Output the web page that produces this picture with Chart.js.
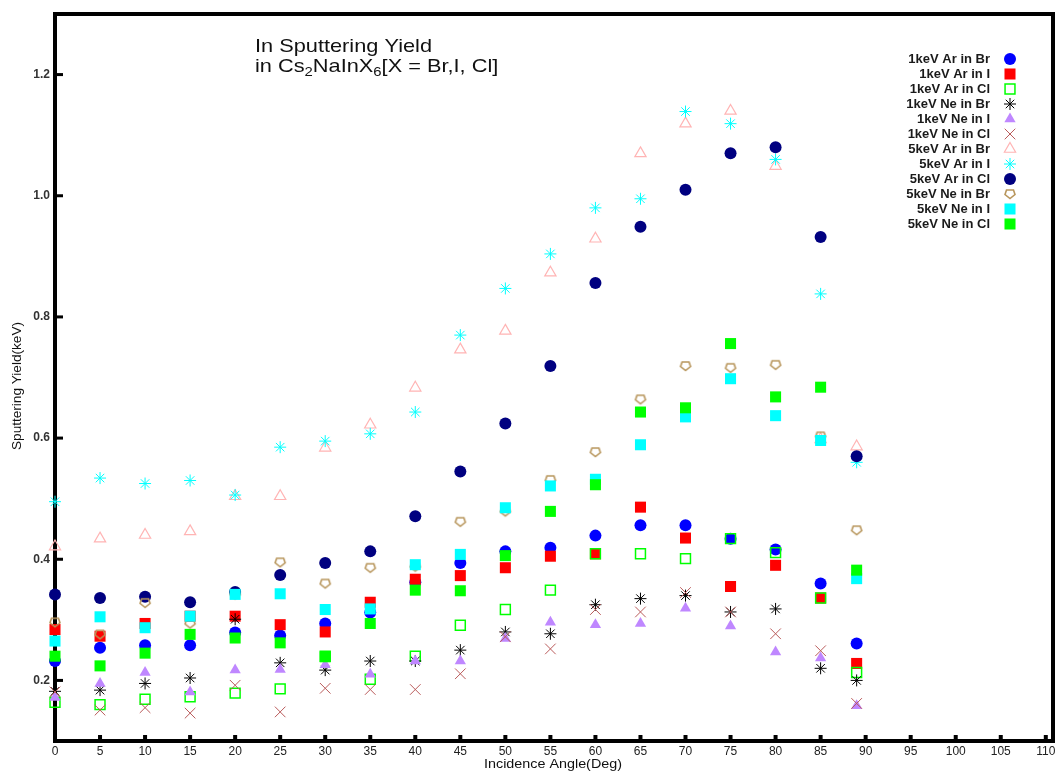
<!DOCTYPE html>
<html>
<head>
<meta charset="utf-8">
<title>In Sputtering Yield</title>
<script src="https://cdn.jsdelivr.net/npm/chart.js@4.4.1/dist/chart.umd.min.js"></script>
<style>
  html, body { margin: 0; padding: 0; background: #fff; }
  #wrap { width: 1062px; height: 772px; position: relative; }
</style>
</head>
<body>
<div id="wrap"><canvas id="myChart"></canvas></div>
<script>
// incidence angles (deg)
var angles = [0, 5, 10, 15, 20, 25, 30, 35, 40, 45, 50, 55, 60, 65, 70, 75, 80, 85, 89];
var xTicks = [0, 5, 10, 15, 20, 25, 30, 35, 40, 45, 50, 55, 60, 65, 70, 75, 80, 85, 90, 95, 100, 105, 110];
var yTicks = [0.2, 0.4, 0.6, 0.8, 1.0, 1.2];

var seriesNames = [
  "1keV Ar in Br", "1keV Ar in I", "1keV Ar in Cl",
  "1keV Ne in Br", "1keV Ne in I", "1keV Ne in Cl",
  "5keV Ar in Br", "5keV Ar in I", "5keV Ar in Cl",
  "5keV Ne in Br", "5keV Ne in I", "5keV Ne in Cl"
];

var ar1Br = [0.232, 0.254, 0.258, 0.258, 0.279, 0.274, 0.294, 0.312, 0.362, 0.394, 0.413, 0.419, 0.439, 0.456, 0.456, 0.434, 0.416, 0.360, 0.261];
var ar1I  = [0.284, 0.273, 0.294, 0.306, 0.306, 0.292, 0.280, 0.329, 0.367, 0.373, 0.386, 0.405, 0.409, 0.486, 0.435, 0.355, 0.390, 0.336, 0.228];
var ar1Cl = [0.164, 0.160, 0.169, 0.173, 0.179, 0.186, 0.240, 0.202, 0.240, 0.291, 0.317, 0.349, 0.409, 0.409, 0.401, 0.434, 0.411, 0.336, 0.213];
var ne1Br = [0.182, 0.184, 0.195, 0.204, 0.301, 0.229, 0.217, 0.232, 0.232, 0.250, 0.280, 0.277, 0.325, 0.335, 0.340, 0.313, 0.318, 0.220, 0.200];
var ne1I  = [0.172, 0.195, 0.213, 0.181, 0.217, 0.218, 0.226, 0.210, 0.232, 0.232, 0.269, 0.296, 0.292, 0.294, 0.319, 0.290, 0.247, 0.237, 0.158];
var ne1Cl = [0.181, 0.151, 0.155, 0.146, 0.192, 0.148, 0.187, 0.185, 0.185, 0.211, 0.272, 0.252, 0.317, 0.313, 0.345, 0.313, 0.277, 0.249, 0.162];
var ar5Br = [0.421, 0.434, 0.440, 0.446, 0.504, 0.504, 0.584, 0.622, 0.683, 0.746, 0.777, 0.873, 0.929, 1.070, 1.119, 1.140, 1.049, 0.598, 0.586];
var ar5I  = [0.495, 0.534, 0.525, 0.530, 0.506, 0.585, 0.595, 0.607, 0.643, 0.770, 0.847, 0.904, 0.980, 0.995, 1.139, 1.119, 1.060, 0.838, 0.560];
var ar5Cl = [0.342, 0.336, 0.338, 0.329, 0.346, 0.374, 0.394, 0.413, 0.471, 0.545, 0.624, 0.719, 0.856, 0.949, 1.010, 1.070, 1.080, 0.932, 0.570];
var ne5Br = [0.296, 0.276, 0.328, 0.294, 0.342, 0.395, 0.360, 0.386, 0.388, 0.462, 0.479, 0.531, 0.577, 0.664, 0.719, 0.716, 0.721, 0.603, 0.448];
var ne5I  = [0.265, 0.305, 0.287, 0.306, 0.342, 0.343, 0.317, 0.318, 0.391, 0.408, 0.485, 0.521, 0.532, 0.589, 0.635, 0.698, 0.637, 0.596, 0.368];
var ne5Cl = [0.240, 0.224, 0.245, 0.276, 0.270, 0.262, 0.239, 0.294, 0.349, 0.348, 0.406, 0.479, 0.523, 0.643, 0.650, 0.756, 0.668, 0.684, 0.382];

var allValues = [ar1Br, ar1I, ar1Cl, ne1Br, ne1I, ne1Cl, ar5Br, ar5I, ar5Cl, ne5Br, ne5I, ne5Cl];

var FONT = "'Liberation Sans', Arial, sans-serif";

// open pentagon marker (flat top, point down)
function pentagon(color) {
  var c = document.createElement("canvas");
  c.width = 14; c.height = 14;
  var g = c.getContext("2d");
  g.strokeStyle = color;
  g.lineWidth = 1.6;
  g.beginPath();
  g.moveTo(3.5, 3); g.lineTo(10.5, 3); g.lineTo(12, 7.5); g.lineTo(7, 11.5); g.lineTo(2, 7.5);
  g.closePath();
  g.stroke();
  return c;
}

var markers = [
  { pointStyle: "circle",   radius: 6,   bg: "#0000ff", border: "#0000ff", bw: 0 },
  { pointStyle: "rect",     radius: 7.8, bg: "#ff0000", border: "#ff0000", bw: 0 },
  { pointStyle: "rect",     radius: 7,   bg: "rgba(0,0,0,0)", border: "#00ff00", bw: 1.5 },
  { pointStyle: "star",     radius: 6,   bg: "#000000", border: "#000000", bw: 1 },
  { pointStyle: "triangle", radius: 6.5, bg: "#bf87ff", border: "#bf87ff", bw: 0 },
  { pointStyle: "crossRot", radius: 7.5, bg: "#b95a5a", border: "#b95a5a", bw: 1 },
  { pointStyle: "triangle", radius: 6.5, bg: "rgba(0,0,0,0)", border: "#ffb4b4", bw: 1.2 },
  { pointStyle: "star",     radius: 6,   bg: "#00ffff", border: "#00ffff", bw: 1 },
  { pointStyle: "circle",   radius: 6,   bg: "#000080", border: "#000080", bw: 0 },
  { pointStyle: pentagon("#b8965c"), radius: 6, bg: "#b8965c", border: "#b8965c", bw: 0 },
  { pointStyle: "rect",     radius: 7.8, bg: "#00ffff", border: "#00ffff", bw: 0 },
  { pointStyle: "rect",     radius: 7.8, bg: "#00ff00", border: "#00ff00", bw: 0 }
];

var datasets = seriesNames.map(function (name, i) {
  var m = markers[i];
  return {
    label: name,
    data: angles.map(function (a, j) { return { x: a, y: allValues[i][j] }; }),
    pointStyle: m.pointStyle,
    pointRadius: m.radius,
    pointHoverRadius: m.radius,
    backgroundColor: m.bg,
    borderColor: m.border,
    pointBorderWidth: m.bw,
    borderWidth: m.bw,
    showLine: false,
    clip: false,
    order: seriesNames.length - i
  };
});

function stretchedText(ctx, text, x, y, width) {
  var w = ctx.measureText(text).width;
  ctx.save();
  ctx.translate(x, y);
  ctx.scale(width / w, 1);
  ctx.fillText(text, 0, 0);
  ctx.restore();
}

var decor = {
  id: "decor",
  beforeDatasetsDraw: function (chart) {
    var ctx = chart.ctx, a = chart.chartArea;
    var xs = chart.scales.x, ys = chart.scales.y;
    ctx.save();
    ctx.strokeStyle = "#000";
    ctx.lineWidth = 4;
    ctx.strokeRect(a.left, a.top, a.right - a.left, a.bottom - a.top);
    ctx.fillStyle = "#000";
    yTicks.forEach(function (v) {
      var py = ys.getPixelForValue(v);
      ctx.fillRect(a.left, py - 1.5, 8, 3);
    });
    xTicks.forEach(function (v) {
      var px = xs.getPixelForValue(v);
      ctx.fillRect(px - 2, a.bottom - 6, 4, 6);
    });
    ctx.restore();
  },
  afterDraw: function (chart) {
    var ctx = chart.ctx;
    ctx.save();
    ctx.fillStyle = "#111";

    // chart title with subscripts
    ctx.textAlign = "left";
    ctx.textBaseline = "alphabetic";
    ctx.font = "19px " + FONT;
    var line1 = "In Sputtering Yield";
    var sx = 177 / ctx.measureText(line1).width;
    ctx.translate(255, 52);
    ctx.scale(sx, 1);
    ctx.fillText(line1, 0, 0);
    var parts = [["in Cs", false], ["2", true], ["NaInX", false], ["6", true], ["[X = Br,I, Cl]", false]];
    var cx = 0;
    parts.forEach(function (p) {
      ctx.font = (p[1] ? "13px " : "19px ") + FONT;
      ctx.fillText(p[0], cx, p[1] ? 24 : 20);
      cx += ctx.measureText(p[0]).width;
    });
    ctx.restore();

    // axis titles
    ctx.save();
    ctx.fillStyle = "#111";
    ctx.font = "12px " + FONT;
    ctx.textAlign = "center";
    ctx.textBaseline = "middle";
    stretchedText(ctx, "Incidence Angle(Deg)", 553, 765, 138);
    ctx.translate(18, 386);
    ctx.rotate(-Math.PI / 2);
    stretchedText(ctx, "Sputtering Yield(keV)", 0, 0, 128);
    ctx.restore();

    // legend: text right aligned, marker to the right
    ctx.save();
    ctx.font = "bold 13px " + FONT;
    ctx.textAlign = "right";
    ctx.textBaseline = "middle";
    chart.data.datasets.forEach(function (ds, i) {
      var ly = 59 + i * 15;
      ctx.fillStyle = "#1a1a1a";
      ctx.fillText(ds.label, 990, ly);
      var m = markers[i];
      ctx.fillStyle = m.bg;
      ctx.strokeStyle = m.border;
      ctx.lineWidth = m.bw;
      Chart.helpers.drawPoint(ctx, { pointStyle: m.pointStyle, radius: m.radius, borderWidth: m.bw, rotation: 0 }, 1010, ly);
    });
    ctx.restore();
  }
};

new Chart("myChart", {
  type: "scatter",
  data: { datasets: datasets },
  options: {
    responsive: true,
    maintainAspectRatio: false,
    animation: false,
    layout: { padding: { top: 14, right: 9, left: 0, bottom: 0 } },
    plugins: {
      legend: { display: false },
      tooltip: { enabled: false }
    },
    scales: {
      x: {
        type: "linear",
        min: 0,
        max: 110.8,
        afterBuildTicks: function (s) { s.ticks = xTicks.map(function (v) { return { value: v }; }); },
        afterFit: function (s) { s.height = 31; },
        grid: { display: false, drawTicks: false },
        border: { display: false },
        ticks: { padding: 3, autoSkip: false, maxRotation: 0, color: "#222", font: { family: FONT, size: 12 } }
      },
      y: {
        type: "linear",
        min: 0.1,
        max: 1.3,
        afterBuildTicks: function (s) { s.ticks = yTicks.map(function (v) { return { value: v }; }); },
        afterFit: function (s) { s.width = 55; },
        grid: { display: false, drawTicks: false },
        border: { display: false },
        ticks: {
          padding: 5,
          color: "#333",
          font: { family: FONT, size: 12, weight: "bold" },
          callback: function (v) { return v.toFixed(1); }
        }
      }
    }
  },
  plugins: [decor]
});
</script>
</body>
</html>
